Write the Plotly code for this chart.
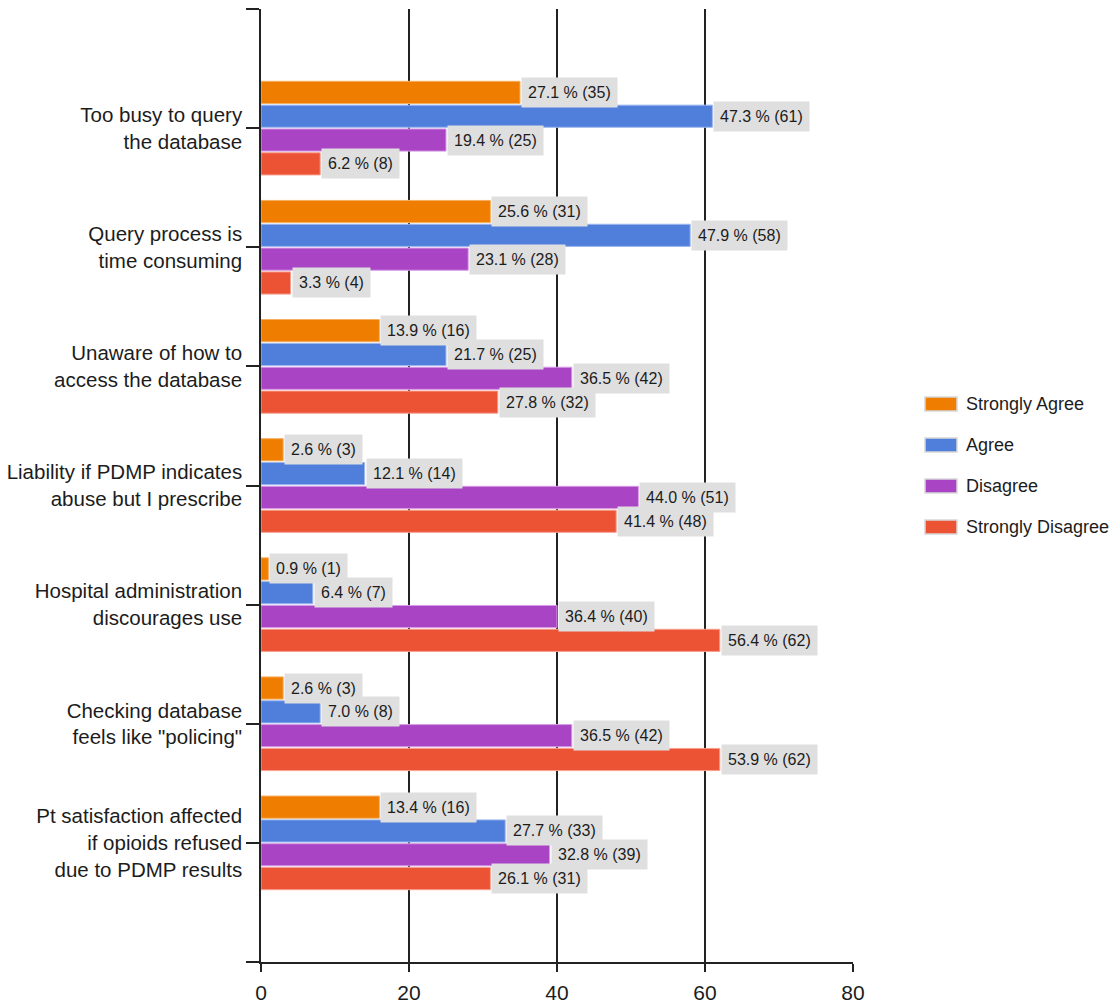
import plotly.graph_objects as go

categories = [
    "Too busy to query<br>the database",
    "Query process is<br>time consuming",
    "Unaware of how to<br>access the database",
    "Liability if PDMP indicates<br>abuse but I prescribe",
    "Hospital administration<br>discourages use",
    "Checking database<br>feels like \"policing\"",
    "Pt satisfaction affected<br>if opioids refused<br>due to PDMP results",
]

series_names = ["Strongly Agree", "Agree", "Disagree", "Strongly Disagree"]

strongly_agree_n = [35, 31, 16, 3, 1, 3, 16]
agree_n = [61, 58, 25, 14, 7, 8, 33]
disagree_n = [25, 28, 42, 51, 40, 42, 39]
strongly_disagree_n = [8, 4, 32, 48, 62, 62, 31]

strongly_agree_pct = [27.1, 25.6, 13.9, 2.6, 0.9, 2.6, 13.4]
agree_pct = [47.3, 47.9, 21.7, 12.1, 6.4, 7.0, 27.7]
disagree_pct = [19.4, 23.1, 36.5, 44.0, 36.4, 36.5, 32.8]
strongly_disagree_pct = [6.2, 3.3, 27.8, 41.4, 56.4, 53.9, 26.1]

x_ticks = [0, 20, 40, 60, 80]

counts = [strongly_agree_n, agree_n, disagree_n, strongly_disagree_n]
pcts = [strongly_agree_pct, agree_pct, disagree_pct, strongly_disagree_pct]
colors = ["#EE7D00", "#4F7FDB", "#A945C4", "#EC5335"]
edges = ["#F7B060", "#9DB8EE", "#D79BE6", "#F6A090"]

FONT = "Liberation Sans, Arial, sans-serif"
TXT = "#1c1c1c"

ypos = list(range(len(categories)))
fig = go.Figure()
for name, vals, col, ed in zip(series_names, counts, colors, edges):
    fig.add_trace(go.Bar(
        y=ypos, x=vals, name=name, orientation="h",
        marker=dict(color=col, line=dict(color=ed, width=1)),
        showlegend=False, hoverinfo="skip",
    ))

annotations = []
nser = len(series_names)
group_w = 0.8
slot = group_w / nser
for j in range(nser):
    off = -group_w / 2 + slot * (j + 0.5)
    for i in range(len(categories)):
        annotations.append(dict(
            x=counts[j][i], y=i + off, xref="x", yref="y",
            text=f"{pcts[j][i]:.1f} % ({counts[j][i]})",
            showarrow=False, xanchor="left", yanchor="middle", xshift=1,
            bgcolor="#DFDFDF", borderpad=6,
            font=dict(family=FONT, size=16, color=TXT),
        ))

# legend (manual, to get wide swatches)
PL, PR, PT, PB = 261, 853, 9, 962
W, H = PR - PL, PB - PT
def px(x):
    return (x - PL) / W
def py(y):
    return (PB - y) / H

shapes = []
leg_y = [404, 445, 486, 527]
for name, col, ed, ly in zip(series_names, colors, edges, leg_y):
    shapes.append(dict(type="rect", xref="paper", yref="paper",
                       x0=px(925), x1=px(957), y0=py(ly + 7), y1=py(ly - 7),
                       fillcolor=col, line=dict(color="#D8D8D8", width=1.5)))
    annotations.append(dict(x=px(964), y=py(ly), xref="paper", yref="paper",
                            text=name, showarrow=False, xanchor="left", yanchor="middle",
                            font=dict(family=FONT, size=18, color=TXT)))

fig.update_layout(
    width=1111, height=1004,
    margin=dict(l=PL, r=1111 - PR, t=PT, b=1004 - PB),
    paper_bgcolor="white", plot_bgcolor="white",
    barmode="group", bargap=0.2, bargroupgap=0.07,
    annotations=annotations, shapes=shapes,
    font=dict(family=FONT, color=TXT),
)
fig.update_xaxes(
    range=[0, 80], tickvals=x_ticks, ticktext=[str(v) for v in x_ticks],
    showgrid=True, gridcolor="#222222", gridwidth=1.5,
    showline=True, linecolor="#222222", linewidth=1.5,
    ticks="outside", ticklen=8, tickwidth=1.5, tickcolor="#222222",
    zeroline=False, tickfont=dict(family=FONT, size=21, color=TXT),
    ticklabelstandoff=3, automargin=False,
    fixedrange=True,
)
fig.update_yaxes(
    range=[len(categories), -1],
    tickvals=[-1] + ypos + [len(categories)],
    ticktext=[""] + categories + [""],
    showgrid=False, zeroline=False,
    showline=True, linecolor="#222222", linewidth=1.5,
    ticks="outside", ticklen=13, tickwidth=1.5, tickcolor="#222222",
    tickfont=dict(family=FONT, size=20.5, color=TXT),
    automargin=False,
    fixedrange=True,
)

fig.write_html("out.html")
